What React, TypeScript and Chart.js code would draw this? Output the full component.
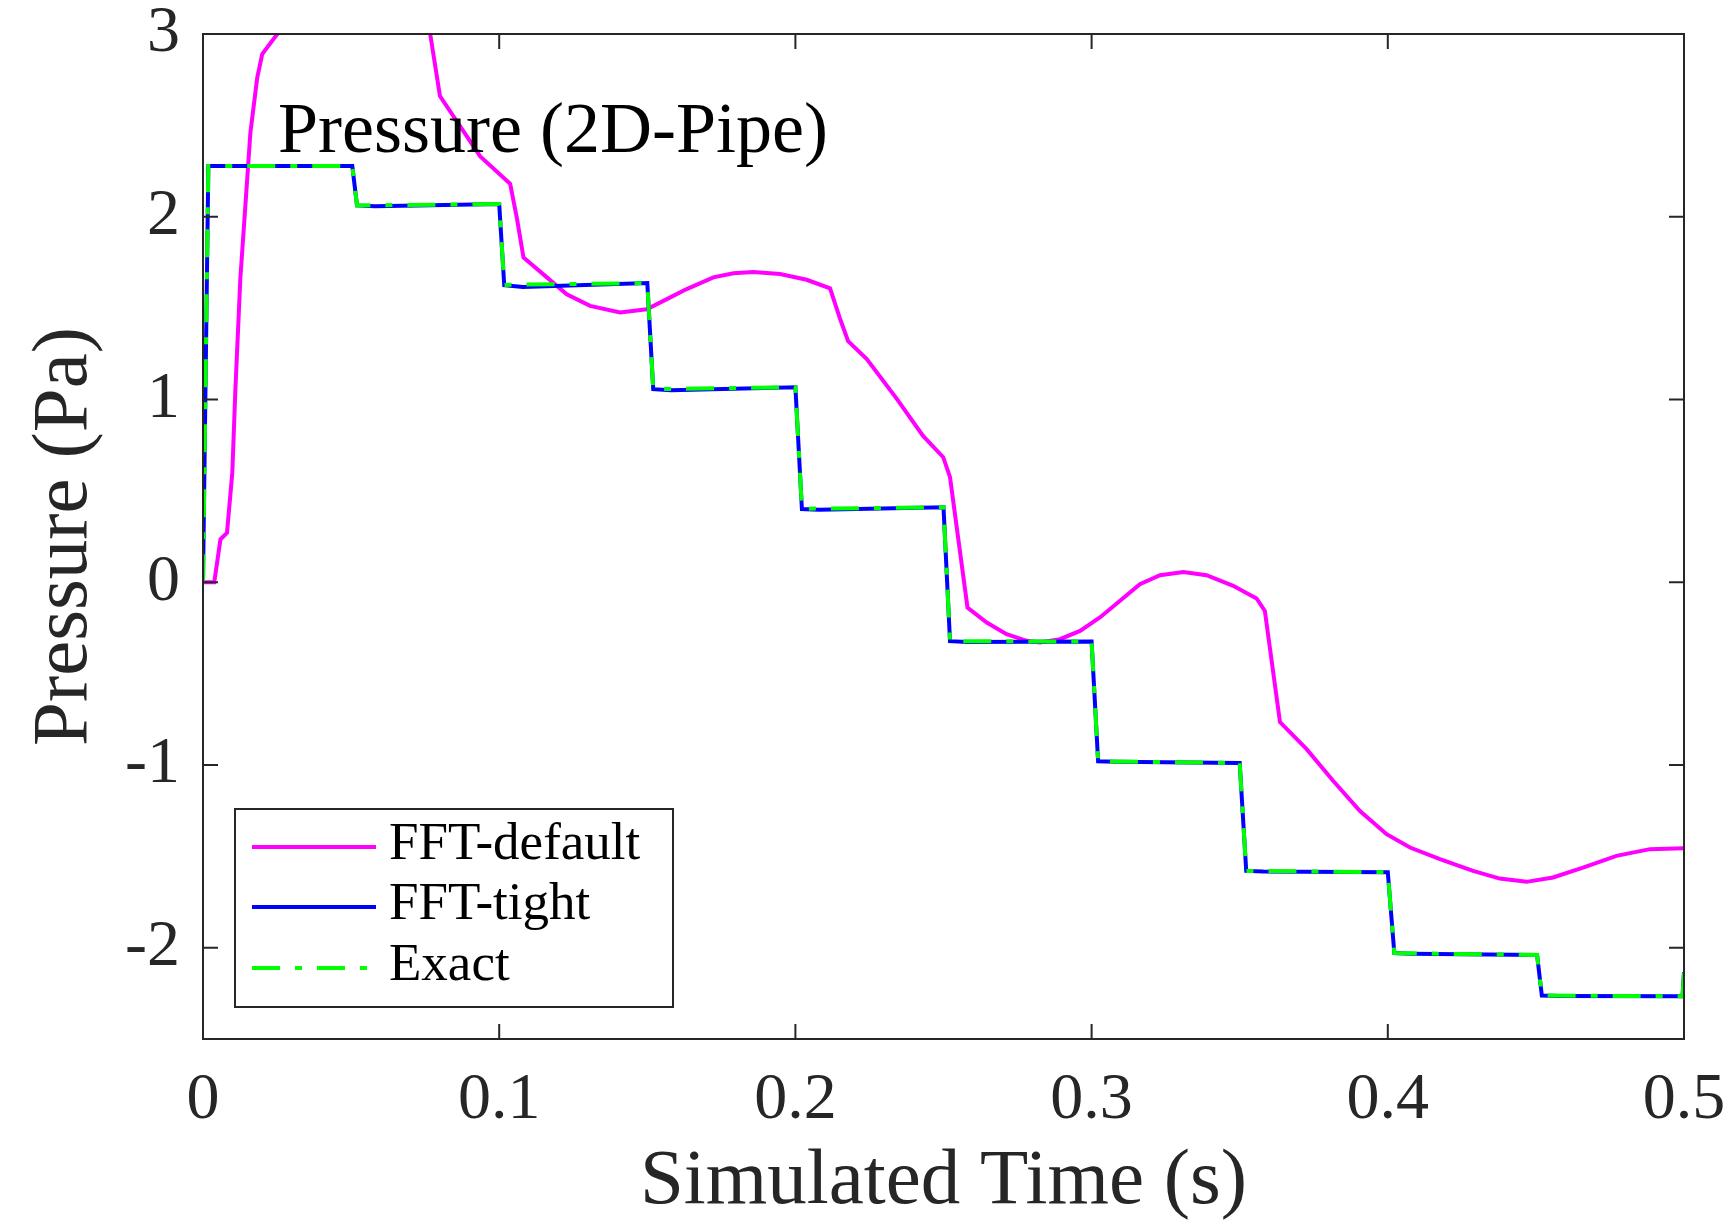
import React, { useEffect, useRef } from "react";
import { Chart, registerables } from "chart.js";

Chart.register(...registerables);

// ---------- data ----------
const X_TICKS = [0, 0.1, 0.2, 0.3, 0.4, 0.5];
const Y_TICKS = [-2, -1, 0, 1, 2, 3];

const SERIES_LABELS = ["FFT-default", "FFT-tight", "Exact"];
const X_TITLE = "Simulated Time (s)";
const Y_TITLE = "Pressure (Pa)";
const PLOT_TITLE = "Pressure (2D-Pipe)";

// FFT-default (magenta)
const T_DEFAULT = [
  0, 0.0038, 0.0059, 0.0081, 0.0099, 0.0109, 0.0126, 0.016, 0.0183, 0.02, 0.026,
  0.035, 0.05, 0.065, 0.072, 0.0755, 0.0767, 0.08, 0.0936, 0.1037, 0.106, 0.1082,
  0.1161, 0.1228, 0.1307, 0.1408, 0.1498, 0.1566, 0.1633, 0.1723, 0.1791, 0.1858,
  0.1948, 0.2038, 0.2117, 0.2151, 0.2178, 0.2241, 0.2343, 0.2431, 0.2499, 0.2522,
  0.2581, 0.2646, 0.2713, 0.2781, 0.2826, 0.2893, 0.2961, 0.3028, 0.3096, 0.3163,
  0.3231, 0.331, 0.3388, 0.3478, 0.3557, 0.3585, 0.3636, 0.3726, 0.3816, 0.3906,
  0.3996, 0.4075, 0.4176, 0.4288, 0.4378, 0.4468, 0.4558, 0.4659, 0.4772, 0.4885, 0.5,
];
const P_DEFAULT = [
  0, 0, 0.235, 0.27, 0.6, 1.04, 1.66, 2.46, 2.76, 2.89, 3.02,
  3.15, 3.3, 3.4, 3.35, 3.12, 3.0, 2.66, 2.33, 2.18, 1.99, 1.777,
  1.668, 1.576, 1.512, 1.476, 1.494, 1.549, 1.604, 1.668, 1.691, 1.698,
  1.686, 1.655, 1.608, 1.44, 1.319, 1.221, 1.002, 0.8, 0.684, 0.575,
  -0.139, -0.221, -0.285, -0.321, -0.33, -0.312, -0.267, -0.193, -0.102, -0.011,
  0.038, 0.056, 0.038, -0.02, -0.089, -0.157, -0.766, -0.914, -1.088, -1.252,
  -1.379, -1.452, -1.516, -1.58, -1.622, -1.64, -1.616, -1.562, -1.498, -1.461, -1.456,
];

// FFT-tight (blue)
const T_TIGHT = [
  0, 0.0018, 0.0504, 0.052, 0.058, 0.1, 0.1017, 0.108, 0.15, 0.152, 0.158, 0.2, 0.2022,
  0.208, 0.25, 0.2522, 0.258, 0.3, 0.3022, 0.308, 0.35, 0.3522, 0.358, 0.4, 0.4022,
  0.408, 0.4504, 0.452, 0.458, 0.4995, 0.5,
];
const P_TIGHT = [
  0, 2.277, 2.277, 2.062, 2.058, 2.069, 1.625, 1.615, 1.637, 1.056, 1.05, 1.067, 0.4,
  0.397, 0.41, -0.323, -0.328, -0.325, -0.98, -0.983, -0.99, -1.58, -1.583, -1.587, -2.03,
  -2.033, -2.04, -2.262, -2.264, -2.266, -2.135,
];

// Exact (green dash-dot)
const T_EXACT = [
  0, 0.0018, 0.0504, 0.052, 0.1, 0.1017, 0.15, 0.152, 0.2, 0.2022, 0.25, 0.2522, 0.3,
  0.3022, 0.35, 0.3522, 0.4, 0.4022, 0.4504, 0.452, 0.4995, 0.5,
];
const P_EXACT = [
  0, 2.277, 2.277, 2.062, 2.069, 1.627, 1.637, 1.056, 1.067, 0.402, 0.41, -0.323, -0.325,
  -0.98, -0.99, -1.58, -1.587, -2.03, -2.04, -2.262, -2.266, -2.135,
];

const toPoints = (xs: number[], ys: number[]) => xs.map((x, i) => ({ x, y: ys[i] }));

const FONT = "'Liberation Serif', 'Times New Roman', serif";
const AXIS_COLOR = "#262626";

const decorPlugin = {
  id: "decor",
  afterDatasetsDraw(chart: any) {
    const { ctx, chartArea } = chart;
    const { left, right, top, bottom } = chartArea;
    const xs = chart.scales.x;
    const ys = chart.scales.y;
    const tickLen = 15;
    ctx.save();
    // frame
    ctx.strokeStyle = AXIS_COLOR;
    ctx.lineWidth = 2;
    ctx.setLineDash([]);
    ctx.strokeRect(left, top, right - left, bottom - top);
    // ticks (inside, all four sides)
    ctx.beginPath();
    X_TICKS.forEach((v) => {
      const px = xs.getPixelForValue(v);
      ctx.moveTo(px, bottom);
      ctx.lineTo(px, bottom - tickLen);
      ctx.moveTo(px, top);
      ctx.lineTo(px, top + tickLen);
    });
    Y_TICKS.forEach((v) => {
      const py = ys.getPixelForValue(v);
      ctx.moveTo(left, py);
      ctx.lineTo(left + tickLen, py);
      ctx.moveTo(right, py);
      ctx.lineTo(right - tickLen, py);
    });
    ctx.stroke();

    // inner title
    ctx.fillStyle = "#000";
    ctx.font = `72px ${FONT}`;
    ctx.textAlign = "left";
    ctx.textBaseline = "alphabetic";
    ctx.fillText(PLOT_TITLE, left + 75, top + 118);

    // legend
    const lgL = left + 32, lgT = bottom - 230, lgW = 438, lgH = 198;
    ctx.fillStyle = "#fff";
    ctx.fillRect(lgL, lgT, lgW, lgH);
    ctx.strokeStyle = AXIS_COLOR;
    ctx.lineWidth = 2;
    ctx.strokeRect(lgL, lgT, lgW, lgH);
    const rowYs = [lgT + 38, lgT + 98, lgT + 159];
    chart.data.datasets.forEach((ds: any, i: number) => {
      const ry = rowYs[i];
      ctx.beginPath();
      ctx.strokeStyle = ds.borderColor;
      ctx.lineWidth = ds.borderWidth;
      ctx.setLineDash(ds.borderDash || []);
      ctx.moveTo(lgL + 17, ry);
      ctx.lineTo(lgL + 141, ry);
      ctx.stroke();
      ctx.setLineDash([]);
      ctx.fillStyle = "#000";
      ctx.font = `53px ${FONT}`;
      ctx.textAlign = "left";
      ctx.textBaseline = "alphabetic";
      ctx.fillText(ds.label, lgL + 154, ry + 12);
    });

    // axis titles
    ctx.fillStyle = AXIS_COLOR;
    ctx.font = `79px ${FONT}`;
    ctx.textAlign = "center";
    ctx.textBaseline = "alphabetic";
    ctx.fillText(X_TITLE, (left + right) / 2, 1203);
    ctx.save();
    ctx.translate(86, (top + bottom) / 2);
    ctx.rotate(-Math.PI / 2);
    ctx.fillText(Y_TITLE, 0, 0);
    ctx.restore();
    ctx.restore();
  },
};

export default function App() {
  const ref = useRef<HTMLCanvasElement>(null);
  useEffect(() => {
    const canvas = ref.current;
    if (!canvas) return;
    const chart = new Chart(canvas, {
      type: "line",
      data: {
        datasets: [
          {
            label: SERIES_LABELS[0],
            data: toPoints(T_DEFAULT, P_DEFAULT),
            borderColor: "#FF00FF",
            borderWidth: 4,
            pointRadius: 0,
            tension: 0,
            order: 3,
          },
          {
            label: SERIES_LABELS[1],
            data: toPoints(T_TIGHT, P_TIGHT),
            borderColor: "#0000FF",
            borderWidth: 4,
            pointRadius: 0,
            tension: 0,
            order: 2,
          },
          {
            label: SERIES_LABELS[2],
            data: toPoints(T_EXACT, P_EXACT),
            borderColor: "#00FF00",
            borderWidth: 4,
            borderDash: [28, 15, 7, 15],
            pointRadius: 0,
            tension: 0,
            order: 1,
          },
        ],
      },
      options: {
        responsive: false,
        animation: false,
        devicePixelRatio: 1,
        layout: { padding: { left: 0, right: 48, top: 34, bottom: 0 } },
        plugins: { legend: { display: false }, tooltip: { enabled: false }, title: { display: false } },
        scales: {
          x: {
            type: "linear",
            min: 0,
            max: 0.5,
            afterBuildTicks: (s: any) => {
              s.ticks = X_TICKS.map((v) => ({ value: v }));
            },
            afterFit: (s: any) => {
              s.height = 184;
              s.paddingLeft = 0;
              s.paddingRight = 0;
            },
            grid: { display: false, drawTicks: false },
            border: { display: false },
            ticks: {
              font: { family: FONT, size: 66 },
              color: AXIS_COLOR,
              padding: 22,
              maxRotation: 0,
              autoSkip: false,
              callback: (v: any) => String(v),
            },
          },
          y: {
            type: "linear",
            min: -2.5,
            max: 3,
            afterBuildTicks: (s: any) => {
              s.ticks = Y_TICKS.map((v) => ({ value: v }));
            },
            afterFit: (s: any) => {
              s.width = 203;
              s.paddingTop = 0;
              s.paddingBottom = 0;
            },
            grid: { display: false, drawTicks: false },
            border: { display: false },
            ticks: {
              font: { family: FONT, size: 66 },
              color: AXIS_COLOR,
              padding: 23,
              autoSkip: false,
              callback: (v: any) => String(v),
            },
          },
        },
      },
      plugins: [decorPlugin],
    } as any);
    return () => chart.destroy();
  }, []);
  return (
    <div style={{ position: "absolute", left: 0, top: 0, width: 1732, height: 1223, background: "#fff" }}>
      <canvas ref={ref} width={1732} height={1223} style={{ width: 1732, height: 1223, display: "block" }} />
    </div>
  );
}
